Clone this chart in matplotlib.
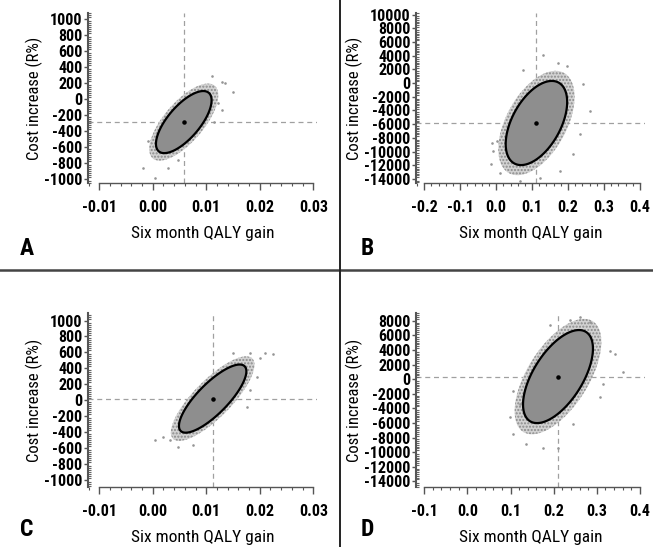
import numpy as np
import matplotlib
matplotlib.use("Agg")
import matplotlib.pyplot as plt
from matplotlib import font_manager as fm
from matplotlib.ticker import MultipleLocator, FormatStrFormatter

# pick a condensed sans face if one is installed
cands = []
for f in fm.fontManager.ttflist:
    st = str(f.stretch).lower()
    if 'condensed' in st or 'narrow' in f.name.lower() or 'condensed' in f.name.lower():
        cands.append((f.name, st, f.fname))
pref = ['Liberation Sans Narrow', 'Roboto Condensed', 'Open Sans Condensed',
        'Noto Sans Condensed', 'DejaVu Sans Condensed', 'DejaVu Sans']
fam = None
stretch = 'normal'
for p in pref:
    for n, st, fn in cands:
        if n == p:
            fam, stretch = n, ('condensed' if 'condensed' in st else 'normal')
            break
    if fam:
        break
if fam is None and cands:
    fam, stretch = cands[0][0], ('condensed' if 'condensed' in cands[0][1] else 'normal')
if fam is None:
    fam = 'DejaVu Sans'
plt.rcParams['font.family'] = [fam, 'DejaVu Sans']
plt.rcParams['font.stretch'] = stretch
plt.rcParams['axes.unicode_minus'] = False

# ---- data ----
panels = ['A', 'B', 'C', 'D']
qaly_mean = [0.0058, 0.112, 0.0112, 0.210]
cost_mean = [-290, -5830, 20, 350]
qaly_half = [0.0052, 0.0855, 0.0063, 0.081]   # 95% ellipse half-extent (x)
cost_half = [390, 6150, 428, 6375]            # 95% ellipse half-extent (y)
corr = [0.70, 0.50, 0.80, 0.60]

out_x = [
    [0.01112, 0.01288, 0.01355, 0.01505, 0.01224, 0.01288, -0.00178, 0.00041, 0.0029, -0.00084, 0.00477, 0.0115],
    [0.129, 0.173, 0.196, 0.261, 0.242, 0.233, 0.001, -0.008, 0.0106, 0.066, 0.122, 0.177, 0.214, 0.075, -0.0125, -0.015],
    [0.01817, 0.02004, 0.02097, 0.01942, 0.01817, 0.01755, 0.00196, 0.00321, 0.00477, 0.00757, 0.00041, 0.01505, 0.0225],
    [0.261, 0.284, 0.238, 0.191, 0.3306, 0.342, 0.361, 0.315, 0.307, 0.106, 0.0987, 0.106, 0.137, 0.176, 0.211, 0.245, 0.122],
]
out_y = [
    [290, 219, 199, 94, -51, -135, -865, -990, -865, -532, -761, -290],
    [4100, 2970, 2480, -4115, -70, -7450, -8440, -9915, -13115, -14340, -13850, -12865, -10400, 1890, -8690, -11880],
    [592, 529, 592, 297, 129, -82, -461, -502, -587, -566, -494, 592, 583],
    [8500, 7810, 8040, 7355, 3920, 3460, 935, -660, -2500, -1580, -5250, -7535, -8910, -9380, -9380, -6160, -3410],
]

x_ticks = [[-0.01, 0.00, 0.01, 0.02, 0.03],
           [-0.2, -0.1, 0.0, 0.1, 0.2, 0.3, 0.4],
           [-0.01, 0.00, 0.01, 0.02, 0.03],
           [-0.1, 0.0, 0.1, 0.2, 0.3, 0.4]]
y_ticks = [list(range(-1000, 1001, 200)),
           list(range(-14000, 10001, 2000)),
           list(range(-1000, 1001, 200)),
           list(range(-14000, 8001, 2000))]

# ---- layout ----
W, H = 653, 547
fig = plt.figure(figsize=(W / 100, H / 100), dpi=100)

def frac(x0, y0, x1, y1):
    return [x0 / W, 1 - y1 / H, (x1 - x0) / W, (y1 - y0) / H]

rects = [frac(88, 13, 317, 183), frac(416, 13, 645, 183),
         frac(88, 313, 317, 487), frac(416, 313, 645, 487)]
xlims = [(-0.0121, 0.0307), (-0.223, 0.414), (-0.0121, 0.0307), (-0.119, 0.4116)]
ylims = [(-1055, 1080), (-14600, 10250), (-1090, 1095), (-14780, 9060)]
x_minor = [0.002, 0.02, 0.002, 0.02]
y_minor = [25, 250, 25, 250]
x_fmt = ['%.2f', '%.1f', '%.2f', '%.1f']
letter_pos = [(20, 249), (361, 249), (20, 529), (361, 529)]

t = np.linspace(0, 2 * np.pi, 300)

for i in range(4):
    ax = fig.add_axes(rects[i])
    mx, my = qaly_mean[i], cost_mean[i]
    hx, hy, r = qaly_half[i], cost_half[i], corr[i]

    # halo of bootstrap replicates just outside the ellipse
    k = 1.24
    hxs = mx + k * hx * np.cos(t)
    hys = my + k * hy * (r * np.cos(t) + np.sqrt(1 - r * r) * np.sin(t))
    ax.fill(hxs, hys, facecolor='#d2d2d2', edgecolor='none', zorder=1)
    ax.fill(hxs, hys, facecolor='none', edgecolor='#8a8a8a', hatch='.....',
            linewidth=0, zorder=1.5)

    ax.scatter(out_x[i], out_y[i], s=3.5, color='#959595', linewidths=0, zorder=2)

    ex = mx + hx * np.cos(t)
    ey = my + hy * (r * np.cos(t) + np.sqrt(1 - r * r) * np.sin(t))
    ax.fill(ex, ey, facecolor='#8e8e8e', edgecolor='black', linewidth=1.6, zorder=3)

    ax.axvline(mx, color='#a0a0a0', linestyle=(0, (4, 3)), linewidth=0.9, zorder=0)
    ax.axhline(my, color='#a0a0a0', linestyle=(0, (4, 3)), linewidth=0.9, zorder=0)
    ax.scatter([mx], [my], s=5, color='black', zorder=4)

    ax.set_xlim(*xlims[i])
    ax.set_ylim(*ylims[i])
    ax.set_xticks(x_ticks[i])
    ax.set_yticks(y_ticks[i])
    ax.xaxis.set_major_formatter(FormatStrFormatter(x_fmt[i]))
    ax.xaxis.set_minor_locator(MultipleLocator(x_minor[i]))
    ax.yaxis.set_minor_locator(MultipleLocator(y_minor[i]))

    for s in ['top', 'right']:
        ax.spines[s].set_visible(False)
    ax.spines['bottom'].set_bounds(x_ticks[i][0], x_ticks[i][-1])
    ax.spines['bottom'].set_color('#555555')
    ax.spines['left'].set_color('#555555')
    ax.spines['left'].set_linewidth(1.5)
    ax.spines['bottom'].set_linewidth(1.0)

    ax.tick_params(axis='x', which='major', direction='out', length=5, width=1,
                   color='#555555', labelsize=11.5, pad=7)
    ax.tick_params(axis='x', which='minor', direction='out', length=2.5, width=0.8,
                   color='#555555')
    ax.tick_params(axis='y', which='major', direction='out', length=3, width=1,
                   color='#555555', labelsize=11.5, pad=1)
    ax.tick_params(axis='y', which='minor', direction='in', length=2.5, width=0.8,
                   color='#666666')
    for lab in ax.get_xticklabels() + ax.get_yticklabels():
        lab.set_fontweight('bold')
        lab.set_fontstretch(stretch)

    ax.set_xlabel('Six month QALY gain', fontsize=12.5, labelpad=8, fontstretch=stretch)
    ax.set_ylabel('Cost increase (R%)', fontsize=12, labelpad=1, fontstretch=stretch)

    fig.text(letter_pos[i][0] / W, 1 - letter_pos[i][1] / H, panels[i],
             fontsize=17, fontweight='bold', ha='left', va='center', fontstretch=stretch)

# separator lines
fig.add_artist(plt.Line2D([0, 1], [1 - 270 / H, 1 - 270 / H], color='#444444',
                          linewidth=1.8, transform=fig.transFigure))
fig.add_artist(plt.Line2D([340 / W, 340 / W], [0, 1], color='#222222',
                          linewidth=1.4, transform=fig.transFigure))

fig.savefig('out.png', dpi=100)
